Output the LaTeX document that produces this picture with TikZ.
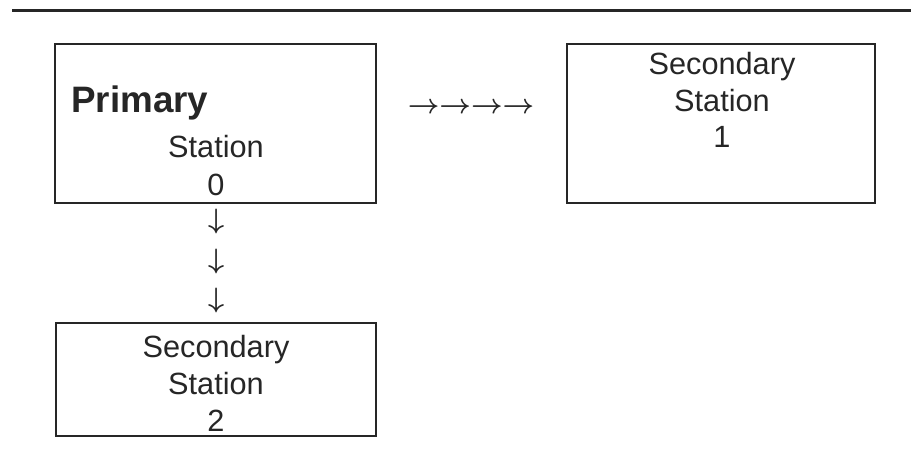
\RequirePackage{fix-cm}
\documentclass[tikz,border=0pt]{standalone}
\usepackage{fontspec}
\setmainfont{Liberation Sans}
\usepackage{tikz}

\begin{document}
\begin{tikzpicture}[x=1pt,y=1pt,
  stationbox/.style={draw=black!85, line width=1.1pt, inner sep=0pt},
  stationtxt/.style={inner sep=0pt, anchor=base, text=black!85, font=\fontsize{30.7}{37}\selectfont},
  arrowglyph/.style={inner sep=0pt, anchor=base, text=black!85, font=\fontsize{28}{34}\selectfont\boldmath}]

\useasboundingbox (0,0) rectangle (915,461);

\coordinate (l) at (12,450.5);
\coordinate (r) at (911,450.5);
\draw[line width=3pt, black!85](l) -- (r);

% primary station
\node[stationbox, minimum width=321pt, minimum height=159pt] (prim) at (215.5,337.5) {};
\node[stationtxt, anchor=base west, font=\bfseries\fontsize{36.8}{44}\selectfont] (primtxt) at (71,348) {Primary};
\node[stationtxt] (primst) at (216,303) {Station};
\node[stationtxt] (primnum) at (216,265) {0};

% secondary station 1
\node[stationbox, minimum width=308pt, minimum height=159pt] (secA) at (721,337.5) {};
\node[stationtxt] (secAtxt) at (722,386) {Secondary};
\node[stationtxt] (secAst) at (722,349) {Station};
\node[stationtxt] (secAnum) at (722,313) {1};

% secondary station 2
\node[stationbox, minimum width=320pt, minimum height=113pt] (secB) at (216,81.5) {};
\node[stationtxt] (secBtxt) at (216,104) {Secondary};
\node[stationtxt] (secBst) at (216,67) {Station};
\node[stationtxt] (secBnum) at (216,30) {2};

% arrows as glyphs
\node[arrowglyph, font=\fontsize{27.5}{33}\selectfont\boldmath] (right) at (471,347) {$\rightarrow\rightarrow\rightarrow\rightarrow$};
\node[arrowglyph] (downa) at (217,233) {$\downarrow$};
\node[arrowglyph] (downb) at (217,193) {$\downarrow$};
\node[arrowglyph] (downc) at (217,153.5) {$\downarrow$};

\end{tikzpicture}
\end{document}
